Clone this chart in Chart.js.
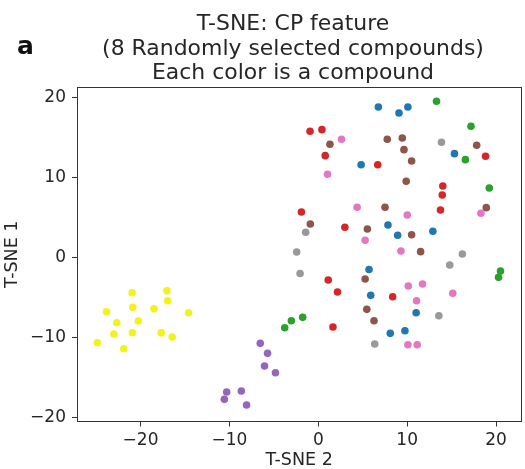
<!DOCTYPE html>
<html>
<head>
<meta charset="utf-8">
<script src="https://cdn.jsdelivr.net/npm/chart.js@4/dist/chart.umd.min.js"></script>
<style>
  html, body { margin: 0; padding: 0; background: #ffffff; }
  #wrap { position: relative; width: 525px; height: 469px; }
</style>
</head>
<body>
<div id="wrap"><canvas id="tsneChart" width="525" height="469"></canvas></div>
<script>
// T-SNE 2 (x) / T-SNE 1 (y) coordinates, one list per compound
const BLUE_X = [6.76, 9.08, 10.08, 4.82, 15.32, 7.84, 8.93, 12.89, 5.71, 5.90, 11.01, 8.10, 9.75];
const BLUE_Y = [18.81, 18.06, 18.81, 11.6, 12.98, 4.06, 2.78, 3.28, -1.5, -4.73, -6.9, -9.48, -9.15];

const GREEN_X = [13.30, 17.18, 16.55, 19.24, 20.50, 20.28, -3.78, -3.03, -1.76];
const GREEN_Y = [19.53, 16.4, 12.23, 8.69, -1.69, -2.48, -8.78, -7.9, -7.48];

const RED_X = [-0.93, 0.41, 0.78, 6.69, 18.82, 14.01, 13.95, -1.90, 13.75, 2.99, 1.12, 2.16, 8.37, 1.65];
const RED_Y = [15.78, 15.98, 12.73, 11.6, 12.65, 8.94, 7.81, 5.69, 5.94, 3.78, -2.81, -4.31, -4.9, -8.69];

const PINK_X = [2.61, 1.04, 4.37, 10.01, 18.30, 5.27, 9.30, 10.12, 11.73, 15.13, 11.06, 10.08, 11.13];
const PINK_Y = [14.78, 10.4, 6.28, 5.31, 5.53, 2.15, 0.81, -3.56, -3.31, -4.48, -5.4, -10.9, -10.9];

const BROWN_X = [1.31, 7.76, 9.45, 9.64, 10.50, 9.89, 17.82, 7.51, 18.90, -0.90, 5.52, 10.50, 11.51, 5.27, 5.46, 6.27];
const BROWN_Y = [14.15, 14.78, 14.94, 13.48, 12.06, 9.53, 14.03, 6.28, 6.23, 4.19, 3.56, 2.85, 0.73, -2.69, -6.48, -7.9];

const GRAY_X = [13.86, -1.42, -2.43, 16.21, 14.79, -2.05, 13.56, 6.35];
const GRAY_Y = [14.4, 3.15, 0.69, 0.44, -0.94, -2.0, -7.28, -10.81];

const PURPLE_X = [-6.53, -5.71, -6.05, -4.82, -10.31, -8.66, -10.57, -8.07];
const PURPLE_Y = [-10.73, -11.98, -13.56, -14.4, -16.81, -16.69, -17.73, -18.44];

const YELLOW_X = [-20.95, -17.03, -16.95, -23.83, -20.87, -18.49, -14.60, -22.67, -20.25, -23.0, -20.92, -17.67, -16.44, -24.87, -21.88];
const YELLOW_Y = [-4.4, -4.15, -5.4, -6.78, -6.23, -6.4, -6.9, -8.15, -7.94, -9.56, -9.4, -9.4, -9.94, -10.65, -11.4];

const X_TICKS = [-20, -10, 0, 10, 20];
const Y_TICKS = [-20, -10, 0, 10, 20];

const TITLE_LINES = [
  "T-SNE: CP feature",
  "(8 Randomly selected compounds)",
  "Each color is a compound"
];
const PANEL_LABEL = "a";

const FONT = "'DejaVu Sans', sans-serif";
const INK = "#262626";

function toPoints(xs, ys) {
  return xs.map((x, i) => ({ x: x, y: ys[i] }));
}

function scatterSet(xs, ys, color) {
  return {
    data: toPoints(xs, ys),
    backgroundColor: color,
    borderColor: color,
    borderWidth: 0,
    pointRadius: 3.8,
    pointHoverRadius: 3.8
  };
}

function minusSign(value) {
  return String(value).replace("-", "\u2212");
}

// figure title and panel letter, drawn above the plot frame
const figureText = {
  id: "figureText",
  afterDraw(chart) {
    const ctx = chart.ctx;
    ctx.save();
    ctx.fillStyle = INK;
    ctx.textAlign = "center";
    ctx.textBaseline = "alphabetic";
    ctx.font = "20.5px " + FONT;
    const baselines = [30, 54.5, 79];
    // the source figure is slightly stretched sideways
    ctx.translate(293, 0);
    ctx.scale(1.07, 1);
    TITLE_LINES.forEach((line, i) => {
      ctx.fillText(line, 0, baselines[i]);
    });
    ctx.setTransform(1, 0, 0, 1, 0, 0);
    ctx.textAlign = "left";
    ctx.fillStyle = "#111111";
    ctx.font = "bold 25px " + FONT;
    ctx.fillText(PANEL_LABEL, 17, 54);
    ctx.restore();
  }
};

const ctx = document.getElementById("tsneChart").getContext("2d");

new Chart(ctx, {
  type: "scatter",
  data: {
    datasets: [
      scatterSet(BLUE_X, BLUE_Y, "#1f77b4"),
      scatterSet(GREEN_X, GREEN_Y, "#2ca02c"),
      scatterSet(RED_X, RED_Y, "#d62728"),
      scatterSet(PINK_X, PINK_Y, "#e377c2"),
      scatterSet(BROWN_X, BROWN_Y, "#8c564b"),
      scatterSet(GRAY_X, GRAY_Y, "#999999"),
      scatterSet(PURPLE_X, PURPLE_Y, "#9467bd"),
      scatterSet(YELLOW_X, YELLOW_Y, "#f2f21c")
    ]
  },
  options: {
    responsive: false,
    animation: false,
    events: [],
    layout: {
      padding: { top: 87, left: 0, right: 0, bottom: 0 }
    },
    plugins: {
      legend: { display: false },
      tooltip: { enabled: false },
      title: { display: false }
    },
    scales: {
      x: {
        type: "linear",
        position: "bottom",
        min: -27.15,
        max: 22.83,
        afterBuildTicks: axis => {
          axis.ticks = X_TICKS.map(v => ({ value: v }));
        },
        afterFit: axis => {
          axis.height = 47.5;
        },
        ticks: {
          color: INK,
          padding: 4,
          font: { family: FONT, size: 17 },
          callback: value => minusSign(value)
        },
        grid: {
          display: true,
          drawOnChartArea: false,
          tickLength: 5,
          tickColor: "#333333"
        },
        border: { display: true, color: "#333333", width: 1 },
        title: {
          display: true,
          text: "T-SNE 2",
          color: INK,
          padding: 0,
          font: { family: FONT, size: 17.5, lineHeight: 1 }
        }
      },
      y: {
        type: "linear",
        position: "left",
        min: -20.5,
        max: 21.31,
        afterBuildTicks: axis => {
          axis.ticks = Y_TICKS.map(v => ({ value: v }));
        },
        afterFit: axis => {
          axis.width = 77;
        },
        ticks: {
          color: INK,
          padding: 6,
          font: { family: FONT, size: 17 },
          callback: value => minusSign(value)
        },
        grid: {
          display: true,
          drawOnChartArea: false,
          tickLength: 5,
          tickColor: "#333333"
        },
        border: { display: true, color: "#333333", width: 1 },
        title: {
          display: true,
          text: "T-SNE 1",
          color: INK,
          padding: { top: 2, bottom: 0 },
          font: { family: FONT, size: 17.5, lineHeight: 1.2 }
        }
      },
      xTop: {
        type: "linear",
        position: "top",
        display: true,
        afterFit: axis => {
          axis.height = 0;
        },
        ticks: { display: false },
        grid: { display: false },
        border: { display: true, color: "#333333", width: 1 }
      },
      yRight: {
        type: "linear",
        position: "right",
        display: true,
        afterFit: axis => {
          axis.width = 2;
        },
        ticks: { display: false },
        grid: { display: false },
        border: { display: true, color: "#333333", width: 1 }
      }
    }
  },
  plugins: [figureText]
});
</script>
</body>
</html>
